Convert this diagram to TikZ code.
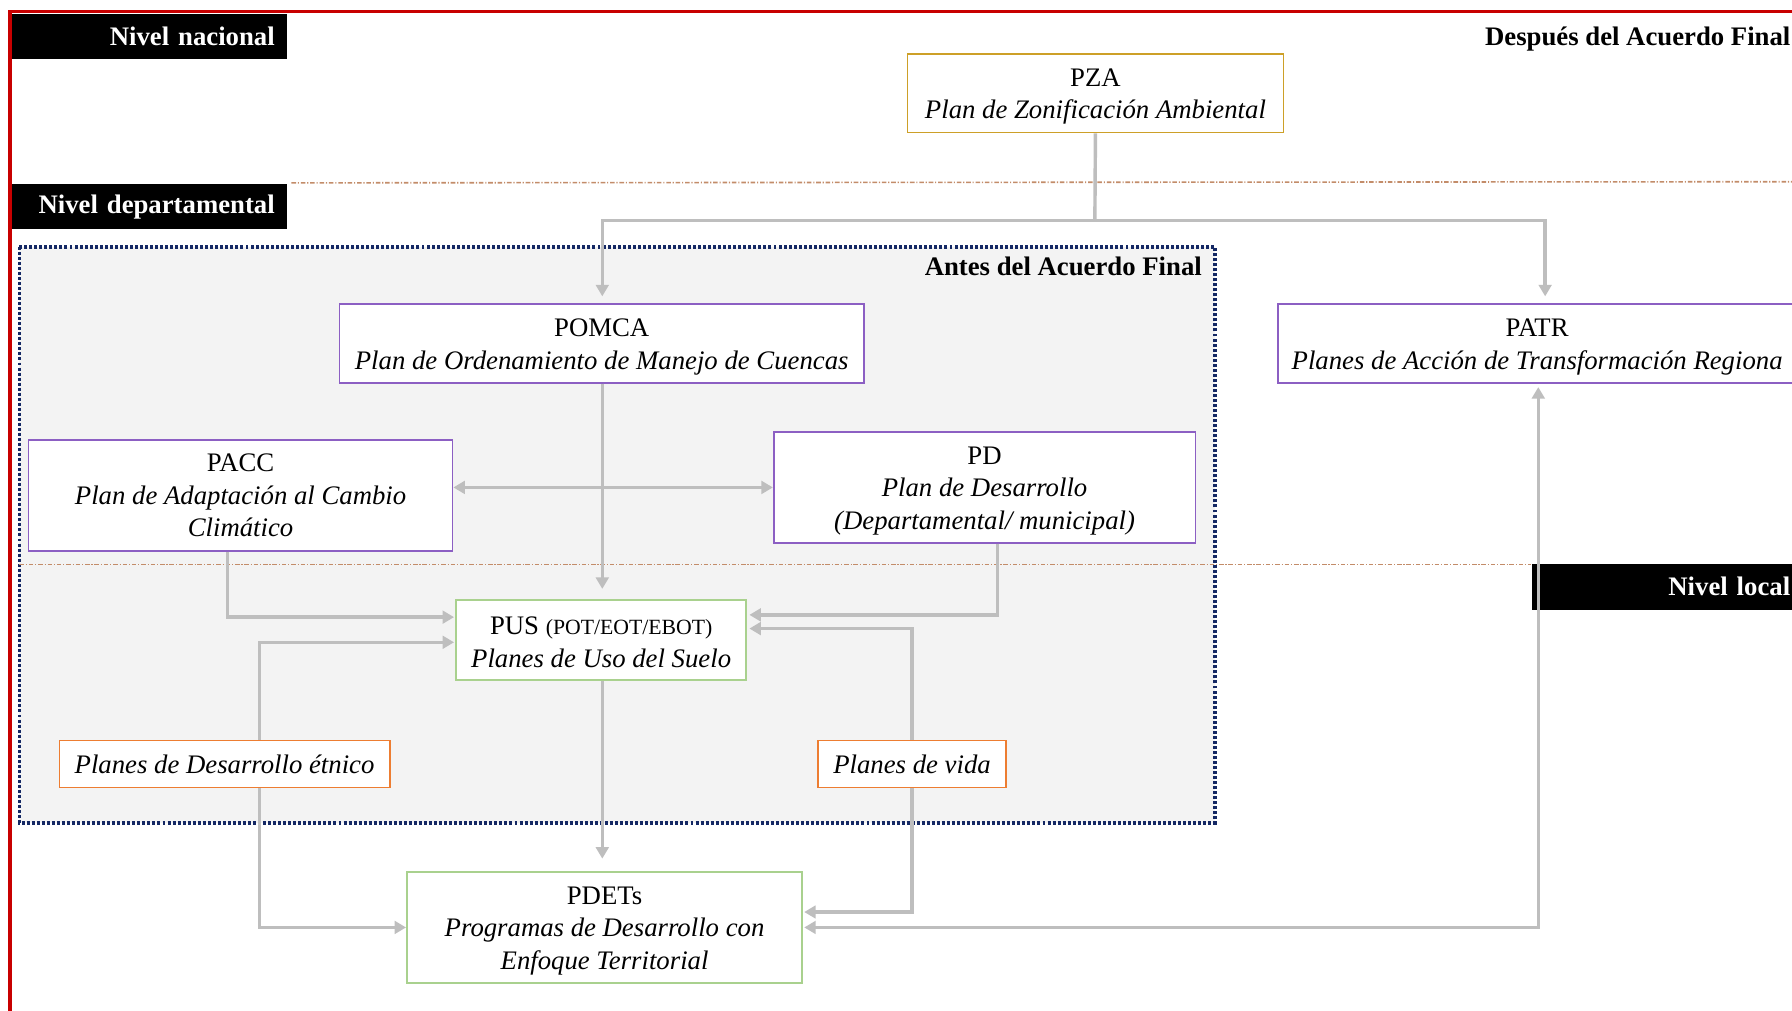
\documentclass[tikz,border=0pt]{standalone}
\usepackage{fontspec}
\setmainfont{Liberation Serif}
\usetikzlibrary{arrows.meta,calc}
\definecolor{framered}{RGB}{200,0,0}
\definecolor{goldb}{RGB}{205,160,40}
\definecolor{purpb}{RGB}{140,95,195}
\definecolor{greenb}{RGB}{169,209,142}
\definecolor{orangeb}{RGB}{237,125,49}
\definecolor{navyd}{RGB}{20,40,100}
\definecolor{dashor}{RGB}{195,140,105}
\definecolor{conngray}{RGB}{190,190,190}
\definecolor{regiongray}{RGB}{243,243,243}
\newcommand\tstrut{\rule{0pt}{10.8pt}}
\newcommand\pusstrut{\rule{0pt}{9.6pt}}
\begin{document}
\begin{tikzpicture}[x=0.5pt,y=-0.5pt,
  txt/.style={font=\fontsize{11.7pt}{14.3pt}\selectfont},
  plan/.style={txt,draw,line width=0.7pt,fill=white,align=center,inner sep=0pt},
  goldbox/.style={plan,draw=goldb},
  purpbox/.style={plan,draw=purpb},
  greenbox/.style={plan,draw=greenb},
  orangebox/.style={plan,draw=orangeb},
  levelbox/.style={txt,fill=black,text=white,font=\fontsize{11.7pt}{14pt}\selectfont\bfseries,
    align=right,inner xsep=5.5pt,inner ysep=0pt,minimum height=19.5pt,anchor=north west},
  headtxt/.style={txt,font=\fontsize{11.7pt}{14pt}\selectfont\bfseries,inner sep=0pt},
  conn/.style={draw=conngray,line width=1.5pt},
  arr/.style={conn,-{Triangle[length=5pt,width=5.5pt]}},
  dbl/.style={conn,{Triangle[length=5pt,width=5.5pt]}-{Triangle[length=5pt,width=5.5pt]}},
  levelline/.style={draw=dashor,line width=0.7pt,dash pattern=on 2pt off 0.8pt on 0.5pt off 0.8pt},
]
\useasboundingbox (0,0) rectangle (1568,884);
\fill[white] (0,0) rectangle (1568,884);
\clip (0,0) rectangle (1568,884);

% red frame
\draw[framered,line width=1.6pt] (9,10) rectangle (1620,940);

% before-agreement region
\fill[regiongray] (17,216) rectangle (1063,720);
\draw[navyd,line width=1.5pt,dash pattern=on 1.3pt off 0.9pt] (17,216) rectangle (1063,720);

% level lines
\draw[levelline] (255,160) -- (1568,159);
\draw[levelline] (17,494) -- (1340,494);

% level labels
\node[levelbox,text width=109.5pt] (lnac) at (10,12) {Nivel nacional};
\node[levelbox,text width=109.5pt] (ldep) at (10,161) {Nivel departamental};
\node[levelbox,text width=107.5pt,minimum height=20pt] (lloc) at (1340,493) {Nivel local};

% headings
\node[headtxt,anchor=east] (hdes) at (1567,34) {Después del Acuerdo Final};
\node[headtxt,anchor=east] (hant) at (1052,233) {Antes del Acuerdo Final};

% plans
\node[goldbox,minimum width=164.5pt,minimum height=34.5pt] (pza) at (958.5,81.5)
  {\tstrut PZA\\\textit{Plan de Zonificación Ambiental}};
\node[purpbox,minimum width=229.5pt,minimum height=34.5pt] (pomca) at (526.5,300.5)
  {\tstrut POMCA\\\textit{Plan de Ordenamiento de Manejo de Cuencas}};
\node[purpbox,minimum width=227pt,minimum height=34.5pt] (patr) at (1345,300.5)
  {\tstrut PATR\\\textit{Planes de Acción de Transformación Regiona}};
\node[purpbox,minimum width=185.5pt,minimum height=48.5pt] (pacc) at (210.5,433.5)
  {PACC\\\textit{Plan de Adaptación al Cambio}\\\textit{Climático}};
\node[purpbox,minimum width=184.5pt,minimum height=48.5pt] (pd) at (861.5,426.5)
  {\tstrut PD\\\textit{Plan de Desarrollo}\\\textit{(Departamental/ municipal)}};
\node[greenbox,minimum width=127pt,minimum height=35pt] (pus) at (526,560)
  {\pusstrut PUS {\fontsize{9.5pt}{14pt}\selectfont(POT/EOT/EBOT)}\\\textit{Planes de Uso del Suelo}};
\node[orangebox,minimum width=144.5pt,minimum height=20.5pt] (etn) at (196.5,668.5)
  {\textit{Planes de Desarrollo étnico}};
\node[orangebox,minimum width=82pt,minimum height=20.5pt] (vida) at (798,668.5)
  {\textit{Planes de vida}};
\node[greenbox,minimum width=173pt,minimum height=48.5pt] (pdet) at (529,811.5)
  {\tstrut PDETs\\\textit{Programas de Desarrollo con}\\\textit{Enfoque Territorial}};

% connectors
\coordinate (jz) at (958,193);
\draw[conn] (pza.south) -- (jz);
\draw[arr] (jz) -| ($(pomca.north)+(0.5,-6)$);
\draw[arr] (jz) -| ($(patr.north)+(7,-6)$);
\draw[arr] ($(pomca.south)+(0.5,0)$) -- ($(pus.north)+(1,-9)$);
\draw[dbl] (pacc.east |- pd.west) -- (pd.west);
\draw[arr] ($(pacc.south)+(-11.5,0)$) |- ($(pus.west)+(-1,-20)$);
\draw[arr] ($(etn.north)+(30.5,0)$) |- ($(pus.west)+(-1,2)$);
\draw[arr] ($(etn.south)+(30.5,0)$) |- (pdet.west);
\draw[arr] ($(pd.south)+(11.5,0)$) |- ($(pus.east)+(2,-22)$);
\draw[arr] (vida.north) |- ($(pus.east)+(2,-10)$);
\draw[arr] (vida.south) |- ($(pdet.east)+(1,-13.5)$);
\draw[arr] ($(pus.south)+(1,0)$) -- ($(pdet.north)+(-2,-11)$);
\draw[dbl] ($(patr.south)+(1,3)$) |- ($(pdet.east)+(1,0)$);
\end{tikzpicture}
\end{document}
